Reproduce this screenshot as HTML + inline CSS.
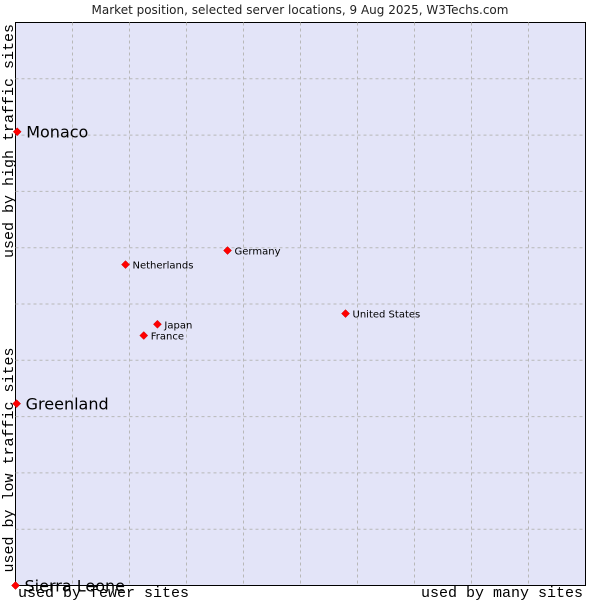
<!DOCTYPE html>
<html><head><meta charset="utf-8"><style>
body{margin:0;background:#fff;width:600px;height:600px;overflow:hidden}
svg{display:block}
</style></head><body>
<svg id="chart" width="600" height="600">
<text x="300" y="14" text-anchor="middle" font-family="DejaVu Sans, sans-serif" font-size="12" fill="#222">Market position, selected server locations, 9 Aug 2025, W3Techs.com</text>
<rect x="15.5" y="22.5" width="570" height="563" fill="#e3e4f8" stroke="#000" stroke-width="1"/>
<g id="grid"></g>
<text transform="translate(13,141) rotate(-90)" text-anchor="middle" font-family="Liberation Mono, DejaVu Sans Mono, monospace" font-size="15" fill="#000">used by high traffic sites</text>
<text transform="translate(13,460) rotate(-90)" text-anchor="middle" font-family="Liberation Mono, DejaVu Sans Mono, monospace" font-size="15" fill="#000">used by low traffic sites</text>
<text x="18" y="597" font-family="Liberation Mono, DejaVu Sans Mono, monospace" font-size="15" fill="#000">used by fewer sites</text>
<text x="583" y="597" text-anchor="end" font-family="Liberation Mono, DejaVu Sans Mono, monospace" font-size="15" fill="#000">used by many sites</text>
<g id="points"></g>
</svg>
<script>
const names = ["Monaco","Greenland","Sierra Leone","Netherlands","Germany","United States","Japan","France"];
const xValues = [0.3,0.2,0,19.3,37.2,57.9,24.9,22.5];
const yValues = [80.6,32.3,0,57.0,59.5,48.3,46.4,44.4];
const bigLabel = [true,true,true,false,false,false,false,false];
const L=15.5,T=22.5,W=570,H=563;
const sx=v=>L+v/100*W, sy=v=>T+H-v/100*H;
const NS="http://www.w3.org/2000/svg";
const grid=document.getElementById('grid');
for(let i=1;i<10;i++){
  const a=document.createElementNS(NS,'line');
  a.setAttribute('x1',sx(i*10));a.setAttribute('x2',sx(i*10));a.setAttribute('y1',T);a.setAttribute('y2',T+H);
  a.setAttribute('stroke','#b8b8b8');a.setAttribute('stroke-dasharray','3,3');
  
  
  grid.appendChild(a);
  const b=document.createElementNS(NS,'line');
  b.setAttribute('y1',sy(i*10));b.setAttribute('y2',sy(i*10));b.setAttribute('x1',L);b.setAttribute('x2',L+W);
  b.setAttribute('stroke','#b8b8b8');b.setAttribute('stroke-dasharray','3,3');
  
  
  grid.appendChild(b);
}
const pts=document.getElementById('points');
names.forEach((n,i)=>{
  const x=sx(xValues[i]),y=sy(yValues[i]);
  const d=document.createElementNS(NS,'path');
  d.setAttribute('d',`M${x-4},${y}L${x},${y-4}L${x+4},${y}L${x},${y+4}Z`);
  d.setAttribute('fill','#f00');d.setAttribute('stroke','#c00');d.setAttribute('stroke-width','0.5');
  
  
  pts.appendChild(d);
  const t=document.createElementNS(NS,'text');
  t.textContent=n;
  t.setAttribute('x',x+(bigLabel[i]?9:7));
  t.setAttribute('y',y+(bigLabel[i]?6:4));
  t.setAttribute('font-family','DejaVu Sans, sans-serif');
  t.setAttribute('font-size',bigLabel[i]?'16':'10');
  t.setAttribute('fill','#000');
  
  
  pts.appendChild(t);
});
</script>
</body></html>
